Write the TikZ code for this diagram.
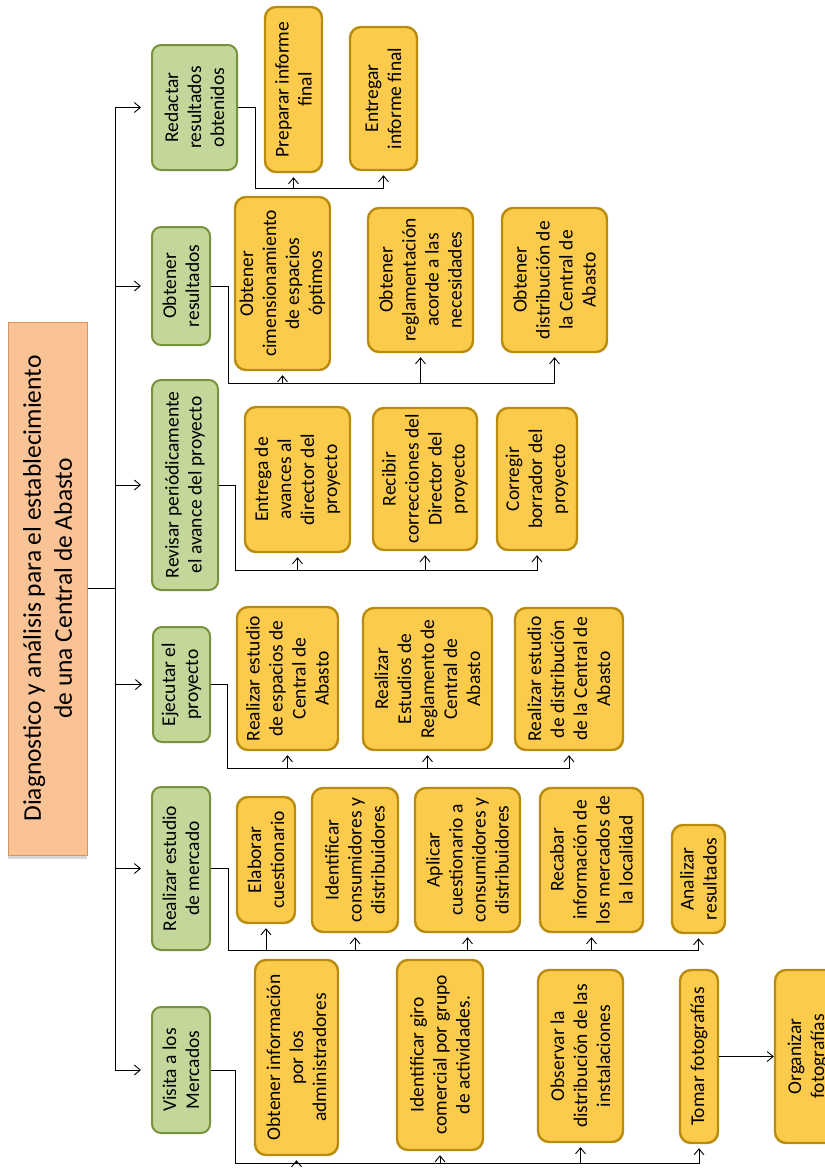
\documentclass[tikz,border=0pt]{standalone}
\usepackage{fontspec}
\setmainfont{Carlito}
\usetikzlibrary{arrows.meta,shadows}

\definecolor{rootfill}{RGB}{250,195,150}
\definecolor{rootline}{RGB}{215,150,95}
\definecolor{mainfill}{RGB}{196,215,155}
\definecolor{mainline}{RGB}{118,146,60}
\definecolor{taskfill}{RGB}{252,203,75}
\definecolor{taskline}{RGB}{185,140,15}

\begin{document}
\begin{tikzpicture}[x=1pt,y=-1pt,
    rootbox/.style={draw=rootline, fill=rootfill, line width=1pt, rotate=90, align=center,
        inner sep=2pt, font=\fontsize{25.5}{31}\selectfont,
        drop shadow={shadow xshift=0pt, shadow yshift=-4pt, fill=gray!60}},
    mainbox/.style={draw=mainline, fill=mainfill, line width=2pt, rounded corners=9pt, rotate=90,
        align=center, inner sep=1pt, font=\fontsize{19.5}{23}\selectfont},
    taskbox/.style={draw=taskline, fill=taskfill, line width=2.4pt, rounded corners=11pt, rotate=90,
        align=center, inner sep=1pt, font=\fontsize{19.5}{23}\selectfont},
    arr/.style={-{Straight Barb[length=6pt,width=10pt]}, shorten >=4pt},
    line width=0.9pt]
    \useasboundingbox (0,0) rectangle (825,1171);
    \clip (0,0) rectangle (825,1171);

    \node[rootbox, minimum width=533, minimum height=79] (root) at (47.5,588.5)
        {Diagnostico y análisis para el establecimiento\\de una Central de Abasto};

    \node[mainbox, minimum width=125, minimum height=85] (red) at (194.5,107.5) {Redactar\\resultados\\obtenidos};
    \node[mainbox, minimum width=118, minimum height=58] (obt) at (181,286) {Obtener\\resultados};
    \node[mainbox, minimum width=210, minimum height=66] (rev) at (185,485) {Revisar periódicamente\\el avance del proyecto};
    \node[mainbox, minimum width=115, minimum height=57] (eje) at (181.5,684.5) {Ejecutar el\\proyecto};
    \node[mainbox, minimum width=163, minimum height=58] (mer) at (181,868.5) {Realizar estudio\\de mercado};
    \node[mainbox, minimum width=126, minimum height=58] (vis) at (181,1070) {Visita a los\\Mercados};

    \node[taskbox, minimum width=165, minimum height=57] (prep) at (293.5,89.5) {Preparar informe\\final};
    \node[taskbox, minimum width=143, minimum height=67] (entr) at (383.5,98.5) {Entregar\\informe final};

    \node[taskbox, minimum width=173, minimum height=95] (dim) at (282.5,283.5) {Obtener\\cimensionamiento\\de espacios\\óptimos};
    \node[taskbox, minimum width=144, minimum height=105] (regl) at (420.5,280) {Obtener\\reglamentación\\acorde a las\\necesidades};
    \node[taskbox, minimum width=144, minimum height=105] (dist) at (554.5,280) {Obtener\\distribución de\\la Central de\\Abasto};

    \node[taskbox, minimum width=145, minimum height=105] (avan) at (297.5,479.5) {Entrega de\\avances al\\director del\\proyecto};
    \node[taskbox, minimum width=142, minimum height=104] (corr) at (425,479) {Recibir\\correcciones del\\Director del\\proyecto};
    \node[taskbox, minimum width=142, minimum height=80] (borr) at (537,479) {Corregir\\borrador del\\proyecto};

    \node[taskbox, minimum width=143, minimum height=101] (esp) at (287.5,678.5) {Realizar estudio\\de espacios de\\Central de\\Abasto};
    \node[taskbox, minimum width=142, minimum height=129] (rgto) at (427.5,679) {Realizar\\Estudios de\\Reglamento de\\Central de\\Abasto};
    \node[taskbox, minimum width=142, minimum height=108] (edis) at (569,679) {Realizar estudio\\de distribución\\de la Central de\\Abasto};

    \node[taskbox, minimum width=126, minimum height=58] (elab) at (266,860) {Elaborar\\cuestionario};
    \node[taskbox, minimum width=144, minimum height=86] (iden) at (355,860) {Identificar\\consumidores y\\distribuidores};
    \node[taskbox, minimum width=144, minimum height=105] (apli) at (467.5,860) {Aplicar\\cuestionario a\\consumidores y\\distribuidores};
    \node[taskbox, minimum width=144, minimum height=103] (reca) at (591.5,860) {Recabar\\información de\\los mercados de\\la localidad};
    \node[taskbox, minimum width=108, minimum height=53] (anal) at (698.5,879) {Analizar\\resultados};

    \node[taskbox, minimum width=195, minimum height=83] (info) at (296.5,1057.5) {Obtener información\\por los\\administradores};
    \node[taskbox, minimum width=190, minimum height=86] (giro) at (440,1055) {Identificar giro\\comercial por grupo\\de actividades.};
    \node[taskbox, minimum width=172, minimum height=85] (obs) at (580.5,1056) {Observar la\\distribución de las\\instalaciones};
    \node[taskbox, minimum width=173, minimum height=38] (tom) at (699,1056.5) {Tomar fotografías};
    \node[taskbox, minimum width=173, minimum height=65] (org) at (807.5,1056.5) {Organizar\\fotografías};

    \coordinate (trunk) at (115,588.5);
    \draw (root.south) -- (trunk);
    \foreach \m in {red,obt,rev,eje,mer,vis}
        \draw[arr, shorten >=10pt] (trunk) |- (\m.north);

    \coordinate (redbus) at (255,188);
    \draw (red.south) -| (redbus);
    \foreach \t in {prep,entr}
        \draw[arr] (redbus) -| (\t.west);

    \coordinate (obtbus) at (228,383);
    \draw (obt.south) -| (obtbus);
    \foreach \t in {dim,regl,dist}
        \draw[arr] (obtbus) -| (\t.west);

    \coordinate (revbus) at (235,570);
    \draw (rev.south) -| (revbus);
    \foreach \t in {avan,corr,borr}
        \draw[arr] (revbus) -| (\t.west);

    \coordinate (ejebus) at (227,768);
    \draw (eje.south) -| (ejebus);
    \foreach \t in {esp,rgto,edis}
        \draw[arr] (ejebus) -| (\t.west);

    \coordinate (merbus) at (228,950);
    \draw (mer.south) -| (merbus);
    \foreach \t in {elab,iden,apli,reca,anal}
        \draw[arr] (merbus) -| (\t.west);

    \coordinate (visbus) at (235,1163);
    \draw (vis.south) -| (visbus);
    \foreach \t in {info,giro,obs,tom}
        \draw[arr] (visbus) -| (\t.west);

    \draw[arr, shorten >=0pt] (tom.south) -- (org.north);
\end{tikzpicture}
\end{document}
